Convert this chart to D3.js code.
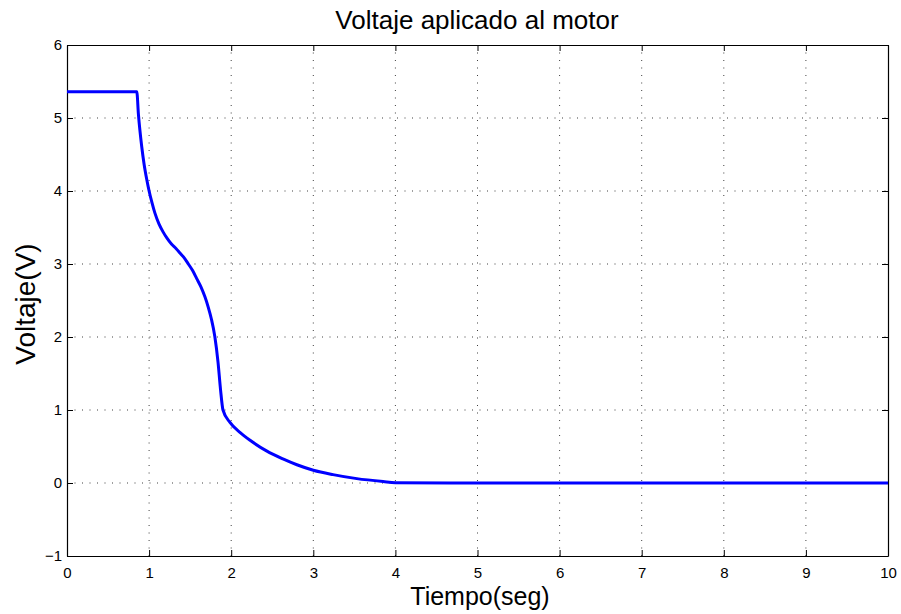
<!DOCTYPE html>
<html><head><meta charset="utf-8">
<script src="https://cdn.jsdelivr.net/npm/d3@7"></script>
<style>body{margin:0;background:#fff}svg{display:block}text{font-family:"Liberation Sans",Arial,Helvetica,sans-serif}</style>
</head><body><svg id="c" width="901" height="614"></svg>
<script>
const timeVals = [0,0.5,0.85,0.87,0.91,0.94,0.971,1.0,1.035,1.07,1.12,1.17,1.22,1.275,1.33,1.376,1.43,1.478,1.53,1.58,1.63,1.68,1.72,1.76,1.80,1.84,1.87,1.90,1.985,2.11,2.23,2.43,2.63,2.8,3.0,3.24,3.53,3.85,4.0,5,6,7,8,9,10];
const voltVals = [5.36,5.36,5.36,5.05,4.61,4.36,4.16,4.0,3.84,3.70,3.55,3.44,3.35,3.27,3.21,3.15,3.08,3.0,2.91,2.80,2.69,2.55,2.41,2.24,2.01,1.65,1.28,1.0,0.83,0.69,0.585,0.44,0.33,0.25,0.175,0.115,0.06,0.02,0.005,0,0,0,0,0,0];
const xTicks = [0,1,2,3,4,5,6,7,8,9,10];
const yTicks = [-1,0,1,2,3,4,5,6];

const svg = d3.select("#c");
const L=67,R=888,T=45,B=556;
const x = d3.scaleLinear().domain([0,10]).range([L,R]);
const y = d3.scaleLinear().domain([-1,6]).range([B,T]);

// grid
const g = svg.append("g");
xTicks.slice(1,-1).forEach(t=>g.append("line").attr("x1",x(t)).attr("x2",x(t)).attr("y1",T).attr("y2",B)
  .attr("stroke","#000").attr("stroke-width",1).attr("stroke-dasharray","1,6.5").attr("opacity",0.75));
yTicks.slice(1,-1).forEach(t=>g.append("line").attr("y1",y(t)).attr("y2",y(t)).attr("x1",L).attr("x2",R)
  .attr("stroke","#000").attr("stroke-width",1).attr("stroke-dasharray","1,6.5").attr("opacity",0.75));

// axes
const fmt = d=> d<0 ? "\u2212"+Math.abs(d) : String(d);
svg.append("g").attr("transform",`translate(0,${B})`)
  .call(d3.axisBottom(x).tickValues(xTicks).tickFormat(fmt).tickSizeInner(-6).tickSizeOuter(0).tickPadding(11));
svg.append("g").attr("transform",`translate(${L},0)`)
  .call(d3.axisLeft(y).tickValues(yTicks).tickFormat(fmt).tickSizeInner(-6).tickSizeOuter(0).tickPadding(5));
svg.append("g").attr("transform",`translate(0,${T})`)
  .call(d3.axisTop(x).tickValues(xTicks).tickFormat("").tickSizeInner(-6).tickSizeOuter(0));
svg.append("g").attr("transform",`translate(${R},0)`)
  .call(d3.axisRight(y).tickValues(yTicks).tickFormat("").tickSizeInner(-6).tickSizeOuter(0));
svg.selectAll(".domain").attr("stroke","#000").attr("stroke-width",1.2);
svg.selectAll(".tick line").attr("stroke","#000");
svg.selectAll(".tick text").style("font-size","15px").attr("fill","#000")
  .style("font-family","'Liberation Sans',Arial,sans-serif");

// line
svg.append("path").datum(timeVals.map((t,i)=>[t,voltVals[i]]))
  .attr("fill","none").attr("stroke","#0000ff").attr("stroke-width",3)
  .attr("stroke-linejoin","round")
  .attr("d", d3.line().x(d=>x(d[0])).y(d=>y(d[1])).curve(d3.curveMonotoneX));

// labels
svg.append("text").attr("x",477).attr("y",29).attr("text-anchor","middle").attr("font-size",26).text("Voltaje aplicado al motor");
svg.append("text").attr("x",480).attr("y",605).attr("text-anchor","middle").attr("font-size",25).text("Tiempo(seg)");
svg.append("text").attr("transform","translate(35,304) rotate(-90)").attr("text-anchor","middle").attr("font-size",28).text("Voltaje(V)");
</script></body></html>
